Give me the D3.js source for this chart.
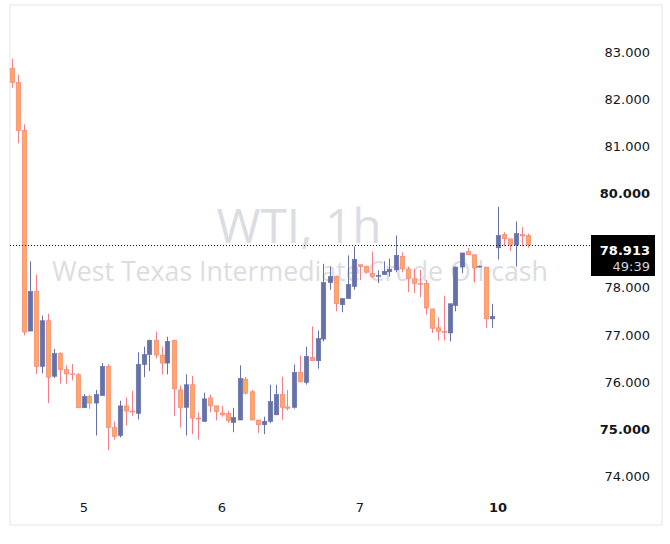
<!DOCTYPE html>
<html>
<head>
<meta charset="utf-8">
<script src="https://cdn.jsdelivr.net/npm/d3@7"></script>
<style>
  body { margin: 0; background: #fff; }
  svg { display: block; }
</style>
</head>
<body>
<script>
// hourly WTI candles, 23 bars per trading day
var opens  = [82.66,82.36,81.34,77.08,77.92,76.33,77.30,76.12,76.60,76.26,76.17,76.15,75.45,75.69,75.55,75.71,76.33,75.03,74.86,75.49,
              75.38,75.33,76.37,76.58,76.88,76.57,76.40,76.88,75.83,75.46,75.94,75.23,75.16,75.66,75.49,75.34,75.33,75.14,75.19,76.06,
              75.79,75.19,75.09,75.16,75.30,75.73,75.47,75.46,76.20,75.99,76.52,76.45,76.91,78.11,78.24,77.64,77.77,78.03,78.49,78.45,
              78.30,78.25,78.28,78.34,78.38,78.67,78.40,78.19,78.09,78.09,77.55,77.15,77.07,77.04,77.62,78.44,78.77,78.70,78.44,78.44,
              77.34,78.85,79.13,79.04,78.91,79.13,79.11];
var highs  = [82.87,82.53,81.47,78.56,78.28,77.41,77.45,76.70,76.63,76.35,76.38,76.19,75.74,75.73,75.83,76.40,76.38,75.16,75.60,75.67,
              75.81,76.63,76.75,76.90,77.07,76.75,76.96,76.90,75.92,76.16,76.13,75.35,75.77,75.73,75.49,75.49,75.39,75.45,76.35,76.11,
              75.83,75.19,75.26,75.94,75.94,76.11,75.83,76.37,76.56,76.75,77.18,77.09,78.51,78.45,78.26,77.77,78.69,78.88,78.49,78.47,
              78.77,78.37,78.56,78.62,79.11,78.75,78.44,78.40,78.38,78.17,77.55,77.37,77.83,77.66,78.45,78.74,78.85,78.70,78.47,78.44,
              77.66,79.72,79.18,79.04,79.41,79.29,79.15];
var lows   = [82.25,81.07,76.99,77.08,76.17,76.18,75.55,76.08,75.96,75.96,76.03,75.44,75.45,75.43,74.86,75.71,74.55,74.77,74.82,75.07,
              75.28,75.20,76.10,76.23,76.50,76.16,76.16,75.28,75.03,74.86,74.89,74.77,75.16,75.35,75.18,75.26,75.13,74.93,75.19,75.73,
              75.19,74.91,74.89,75.13,75.30,75.20,75.39,75.43,76.00,75.94,76.45,76.28,76.86,77.96,77.50,77.48,77.77,77.96,78.16,78.30,
              78.21,78.10,78.28,78.24,78.33,78.33,77.91,77.89,77.80,77.43,77.04,76.88,76.88,76.86,77.50,78.31,78.70,78.11,78.43,77.15,
              77.15,78.60,78.88,78.78,78.45,78.88,78.85];
var closes = [82.36,81.34,77.06,77.92,76.33,77.30,76.10,76.60,76.26,76.17,76.16,75.45,75.69,75.55,75.73,76.33,75.03,74.84,75.49,75.38,
              75.36,76.37,76.58,76.88,76.57,76.40,76.86,75.85,75.46,75.94,75.23,75.21,75.64,75.49,75.37,75.30,75.18,75.24,76.07,75.76,
              75.19,75.09,75.16,75.58,75.73,75.46,75.44,76.20,76.00,76.54,76.45,76.92,78.11,78.24,77.66,77.77,78.07,78.60,78.45,78.33,
              78.24,78.26,78.35,78.39,78.69,78.40,78.20,78.09,78.08,77.57,77.14,77.07,77.06,77.66,78.44,78.74,78.70,78.42,78.46,77.34,
              77.39,79.11,79.04,78.91,79.15,79.10,78.913];

var dayIndex  = [12, 35, 58, 81];
var dayLabels = ["5", "6", "7", "10"];
var priceTicks = [74, 75, 76, 77, 78, 79, 80, 81, 82, 83];
var boldTicks  = [75, 80];
var lastPrice = 78.913;
var countdown = "49:39";

var W = 670, H = 544;
var upColor = "#6571a7",
    downFill = "#ffa95a",
    downLine = "#f47f86";

var candles = opens.map(function(o, i) {
    return {i: i, o: o, h: highs[i], l: lows[i], c: closes[i]};
});

var x = d3.scaleLinear()
    .domain([0, candles.length - 1])
    .range([11.5, 527.5]);

var y = d3.scaleLinear()
    .domain([74, 83])
    .range([476, 52.5]);

var svg = d3.select("body").append("svg")
    .attr("width", W)
    .attr("height", H);

// frame
svg.append("rect")
    .attr("x", 10).attr("y", 5)
    .attr("width", 652).attr("height", 520)
    .attr("fill", "none")
    .attr("stroke", "#f2f2f2")
    .attr("stroke-width", 2);

// watermark
var wm = svg.append("g")
    .attr("fill", "#dcdde2")
    .attr("font-family", "'Open Sans', sans-serif")
    .attr("text-anchor", "middle");
wm.append("text")
    .attr("x", 299).attr("y", 243)
    .attr("font-size", 48)
    .attr("textLength", 165)
    .attr("lengthAdjust", "spacingAndGlyphs")
    .text("WTI, 1h");
wm.append("text")
    .attr("x", 300).attr("y", 281)
    .attr("font-size", 28)
    .attr("textLength", 496)
    .attr("lengthAdjust", "spacingAndGlyphs")
    .text("West Texas Intermediate Crude Oil cash");

// candles
var g = svg.append("g").attr("class", "candles");

g.selectAll("line.wick")
    .data(candles)
  .enter().append("line")
    .attr("class", "wick")
    .attr("x1", function(d) { return Math.round(x(d.i)) + 0.5; })
    .attr("x2", function(d) { return Math.round(x(d.i)) + 0.5; })
    .attr("y1", function(d) { return y(d.h); })
    .attr("y2", function(d) { return y(d.l); })
    .attr("stroke", function(d) { return d.c >= d.o ? upColor : downLine; })
    .attr("stroke-width", 1);

g.selectAll("rect.body")
    .data(candles)
  .enter().append("rect")
    .attr("class", "body")
    .attr("x", function(d) { return Math.round(x(d.i)) - 1.75; })
    .attr("width", 4.5)
    .attr("y", function(d) { return y(Math.max(d.o, d.c)); })
    .attr("height", function(d) { return Math.max(0.8, y(Math.min(d.o, d.c)) - y(Math.max(d.o, d.c))); })
    .attr("fill", function(d) { return d.c >= d.o ? upColor : downFill; })
    .attr("stroke", function(d) { return d.c >= d.o ? upColor : downLine; })
    .attr("stroke-width", 0.6);

// last price line
svg.append("line")
    .attr("x1", 10).attr("x2", 591)
    .attr("y1", Math.round(y(lastPrice)) + 0.5)
    .attr("y2", Math.round(y(lastPrice)) + 0.5)
    .attr("stroke", "#131722")
    .attr("stroke-width", 1)
    .attr("stroke-dasharray", "1,2");

// price axis
var yAxis = d3.axisRight(y)
    .tickValues(priceTicks)
    .tickSize(0)
    .tickPadding(0)
    .tickFormat(d3.format(".3f"));

var ya = svg.append("g")
    .attr("class", "y axis")
    .attr("transform", "translate(650,0)")
    .call(yAxis);
ya.select(".domain").remove();
ya.selectAll("text")
    .attr("x", 0)
    .attr("text-anchor", "end")
    .attr("fill", "#131722")
    .attr("font-family", "'DejaVu Sans', sans-serif")
    .attr("font-size", 13)
    .attr("font-weight", function(d) { return boldTicks.indexOf(d) >= 0 ? "bold" : "normal"; });
// hide the tick hidden behind the price tag
ya.selectAll(".tick").filter(function(d) { return d === 79; }).remove();

// last price tag
var tag = svg.append("g");
tag.append("rect")
    .attr("x", 591).attr("y", 235)
    .attr("width", 64).attr("height", 41)
    .attr("fill", "#000");
tag.append("text")
    .attr("x", 650).attr("y", 255)
    .attr("text-anchor", "end")
    .attr("fill", "#fff")
    .attr("font-family", "'DejaVu Sans', sans-serif")
    .attr("font-size", 13)
    .attr("font-weight", "bold")
    .text(d3.format(".3f")(lastPrice));
tag.append("text")
    .attr("x", 650).attr("y", 271)
    .attr("text-anchor", "end")
    .attr("fill", "#d1d4dc")
    .attr("font-family", "'DejaVu Sans', sans-serif")
    .attr("font-size", 13)
    .text(countdown);

// time axis
var xAxis = d3.axisBottom(x)
    .tickValues(dayIndex)
    .tickSize(0)
    .tickPadding(0)
    .tickFormat(function(d, i) { return dayLabels[i]; });

var xa = svg.append("g")
    .attr("class", "x axis")
    .attr("transform", "translate(0,503)")
    .call(xAxis);
xa.select(".domain").remove();
xa.selectAll("text")
    .attr("y", 0)
    .attr("dy", "0.71em")
    .attr("fill", "#131722")
    .attr("font-family", "'DejaVu Sans', sans-serif")
    .attr("font-size", 13)
    .attr("font-weight", function(d, i) { return dayLabels[i] === "10" ? "bold" : "normal"; });
</script>
</body>
</html>
